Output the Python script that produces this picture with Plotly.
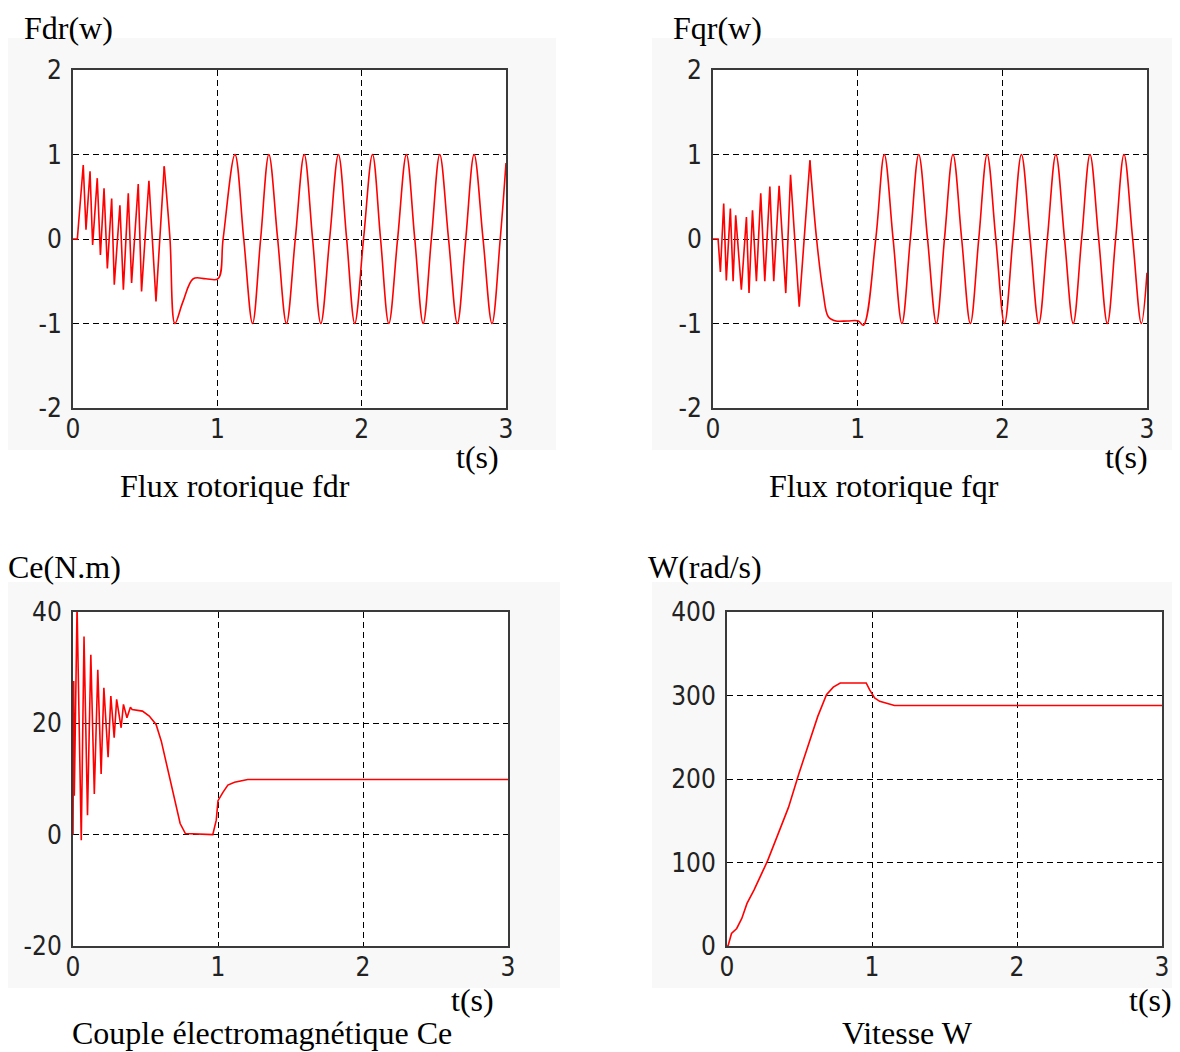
import plotly.graph_objects as go

# ---------------- data ----------------
t_ticks = [0, 1, 2, 3]
t_labels = ["0", "1", "2", "3"]
flux_ticks = [-2, -1, 0, 1, 2]
flux_labels = ["-2", "-1", "0", "1", "2"]
ce_ticks = [-20, 0, 20, 40]
ce_labels = ["-20", "0", "20", "40"]
w_ticks = [0, 100, 200, 300, 400]
w_labels = ["0", "100", "200", "300", "400"]

# Fdr : start-up transient (sharp) and later part (smooth)
fdr_t_start = [0, 0.03, 0.071, 0.09, 0.118, 0.136, 0.168, 0.19, 0.215, 0.238, 0.268,
               0.286, 0.325, 0.349, 0.383, 0.406, 0.452, 0.475, 0.526, 0.575, 0.632]
fdr_v_start = [0, 0, 0.875, 0.11, 0.80, -0.07, 0.72, -0.19, 0.60, -0.35, 0.48,
               -0.54, 0.40, -0.60, 0.54, -0.52, 0.65, -0.62, 0.69, -0.74, 0.86]
fdr_t_run = [0.632, 0.672, 0.706, 0.76, 0.833, 0.92, 1.005, 1.04, 1.122, 1.183, 1.244,
             1.30, 1.357, 1.418, 1.479, 1.54, 1.602, 1.66, 1.717, 1.778, 1.839, 1.896,
             1.952, 2.013, 2.075, 2.131, 2.188, 2.249, 2.310, 2.368, 2.426, 2.483, 2.541,
             2.602, 2.663, 2.721, 2.779, 2.841, 2.903, 2.96, 3.0]
fdr_v_run = [0.86, 0.0, -1.0, -0.75, -0.47, -0.47, -0.47, 0.0, 1.0, 0.0, -1.0,
             0.0, 1.0, 0.0, -1.0, 0.0, 1.0, 0.0, -1.0, 0.0, 1.0, 0.0,
             -1.0, 0.0, 1.0, 0.0, -1.0, 0.0, 1.0, 0.0, -1.0, 0.0, 1.0,
             0.0, -1.0, 0.0, 1.0, 0.0, -1.0, 0.0, 0.9]

# Fqr
fqr_t_start = [0, 0.035, 0.051, 0.074, 0.092, 0.12, 0.139, 0.157, 0.196, 0.231, 0.249,
               0.273, 0.30, 0.33, 0.358, 0.393, 0.42, 0.457, 0.503, 0.536, 0.596, 0.670]
fqr_v_start = [0, 0, -0.39, 0.42, -0.49, 0.36, -0.50, 0.28, -0.60, 0.26, -0.64,
               0.34, -0.50, 0.54, -0.50, 0.62, -0.50, 0.63, -0.64, 0.76, -0.80, 0.93]
fqr_t_run = [0.670, 0.716, 0.762, 0.797, 0.85, 0.93, 1.005, 1.04, 1.125, 1.184, 1.245,
             1.306, 1.364, 1.422, 1.483, 1.544, 1.60, 1.659, 1.719, 1.779, 1.837, 1.895,
             1.955, 2.015, 2.073, 2.132, 2.192, 2.252, 2.311, 2.370, 2.430, 2.490, 2.548,
             2.606, 2.666, 2.726, 2.783, 2.841, 2.901, 2.961, 3.0]
fqr_v_run = [0.93, 0.0, -0.64, -0.92, -0.97, -0.97, -0.97, -1.02, 0.0, 1.0, 0.0,
             -1.0, 0.0, 1.0, 0.0, -1.0, 0.0, 1.0, 0.0, -1.0, 0.0, 1.0,
             0.0, -1.0, 0.0, 1.0, 0.0, -1.0, 0.0, 1.0, 0.0, -1.0, 0.0,
             1.0, 0.0, -1.0, 0.0, 1.0, 0.0, -1.0, -0.4]

# Electromagnetic torque Ce
ce_t = [0, 0.005, 0.009, 0.028, 0.057, 0.076, 0.10, 0.123, 0.147, 0.171, 0.194, 0.213,
        0.242, 0.261, 0.284, 0.301, 0.332, 0.348, 0.372, 0.396, 0.408, 0.44, 0.479,
        0.526, 0.573, 0.609, 0.645, 0.668, 0.704, 0.739, 0.775, 0.964, 0.988, 1.0,
        1.034, 1.068, 1.114, 1.205, 3.0]
ce_v = [0, 27.6, 7.0, 41.0, -1.0, 35.6, 3.5, 32.3, 7.3, 29.6, 10.9, 26.4,
        13.9, 24.9, 17.4, 24.3, 19.2, 23.4, 21.0, 22.9, 22.5, 22.4, 22.2,
        21.3, 19.8, 16.8, 12.7, 9.7, 5.5, 2.0, 0.2, 0.0, 2.6, 6.1,
        7.6, 8.9, 9.4, 9.9, 9.9]

# Speed W
w_t = [0, 0.007, 0.031, 0.067, 0.102, 0.138, 0.186, 0.233, 0.281, 0.352, 0.424, 0.495,
       0.567, 0.626, 0.686, 0.733, 0.781, 0.960, 0.983, 1.018, 1.053, 1.098, 1.155, 3.0]
w_v = [0, 0, 15, 21, 33, 51, 67, 85, 102.5, 134, 166, 206,
       245.5, 275, 301, 310, 315, 315, 307, 297, 293, 291, 288, 288]

# ---------------- layout helpers ----------------
W, H = 1180, 1052
OFF = 8  # page body margin of the html page


def fx(x):
    return (x - OFF) / W


def fy(y):
    return 1 - (y - OFF) / H


RED = "#ff0000"
SERIF = "Liberation Serif, Times New Roman, serif"
TICKFONT = dict(family="Liberation Sans Narrow, DejaVu Sans Condensed, Arial Narrow, Liberation Sans, sans-serif",
                size=26, color="#222222")

# panel boxes in screen pixels: (x0, x1, ytop, ybottom)
boxes = [(73, 506, 70, 408), (713, 1147, 70, 408), (73, 508, 612, 946), (727, 1162, 612, 946)]
y_specs = [([-2, 2], flux_ticks, flux_labels), ([-2, 2], flux_ticks, flux_labels),
           ([-20, 40], ce_ticks, ce_labels), ([0, 400], w_ticks, w_labels)]

fig = go.Figure()


def add_line(i, t, v, shape="linear"):
    fig.add_trace(go.Scatter(
        x=t, y=v, mode="lines",
        line=dict(color=RED, width=1.6, shape=shape, smoothing=1.0 if shape == "spline" else None),
        xaxis="x" if i == 1 else f"x{i}", yaxis="y" if i == 1 else f"y{i}",
        showlegend=False, hoverinfo="skip"))


add_line(1, fdr_t_start, fdr_v_start)
add_line(1, fdr_t_run, fdr_v_run, "spline")
add_line(2, fqr_t_start, fqr_v_start)
add_line(2, fqr_t_run, fqr_v_run, "spline")
add_line(3, ce_t, ce_v)
add_line(4, w_t, w_v)

layout = dict(template="none", width=W, height=H, autosize=False,
              margin=dict(l=0, r=0, t=0, b=0, pad=0),
              paper_bgcolor="white", plot_bgcolor="white", showlegend=False)

for i, ((x0, x1, yt, yb), (yr, yv, yl)) in enumerate(zip(boxes, y_specs), start=1):
    sx = "" if i == 1 else str(i)
    common = dict(showgrid=True, gridcolor="black", gridwidth=1.3, griddash="6px,4px",
                  showline=True, mirror=True, linecolor="#3a3a3a", linewidth=2,
                  ticks="", zeroline=False, tickfont=TICKFONT, fixedrange=True,
                  automargin=False)
    layout["xaxis" + sx] = dict(domain=[fx(x0), fx(x1)], range=[0, 3], tickvals=t_ticks,
                                ticktext=t_labels, anchor="y" + sx, ticklabelstandoff=-3,
                                **common)
    layout["yaxis" + sx] = dict(domain=[fy(yb), fy(yt)], range=yr, tickvals=yv,
                                ticktext=yl, anchor="x" + sx, ticklabelstandoff=4,
                                **common)

# light grey figure backgrounds (as in the MATLAB captures) with white axes areas
bg_regions = [(0, 556, 38, 450), (652, 1180, 38, 450), (0, 560, 582, 988), (652, 1180, 582, 988)]
shapes = []
for (a, b, c, d) in bg_regions:
    shapes.append(dict(type="rect", xref="paper", yref="paper", x0=fx(a), x1=fx(b),
                       y0=fy(d), y1=fy(c), fillcolor="#f8f8f8", line=dict(width=0), layer="below"))
for (x0, x1, yt, yb) in boxes:
    shapes.append(dict(type="rect", xref="paper", yref="paper", x0=fx(x0), x1=fx(x1),
                       y0=fy(yb), y1=fy(yt), fillcolor="white", line=dict(width=0), layer="below"))
layout["shapes"] = shapes

# (text, x centre, y, vertical anchor)
texts = [("Fdr(w)", 69, 8, "top"), ("t(s)", 477, 457, "middle"),
         ("Flux rotorique fdr", 235, 486, "middle"),
         ("Fqr(w)", 717, 8, "top"), ("t(s)", 1126, 457, "middle"),
         ("Flux rotorique fqr", 884, 486, "middle"),
         ("Ce(N.m)", 64, 567, "middle"), ("t(s)", 472, 1000, "middle"),
         ("Couple électromagnétique Ce", 262, 1033, "middle"),
         ("W(rad/s)", 705, 567, "middle"), ("t(s)", 1150, 1000, "middle"),
         ("Vitesse W", 907, 1033, "middle")]
layout["annotations"] = [dict(text=s, x=fx(x), y=fy(y), xref="paper", yref="paper",
                              xanchor="center", yanchor=va, showarrow=False,
                              font=dict(family=SERIF, size=32, color="black"))
                         for (s, x, y, va) in texts]

fig.update_layout(**layout)
fig.write_html("out.html")
